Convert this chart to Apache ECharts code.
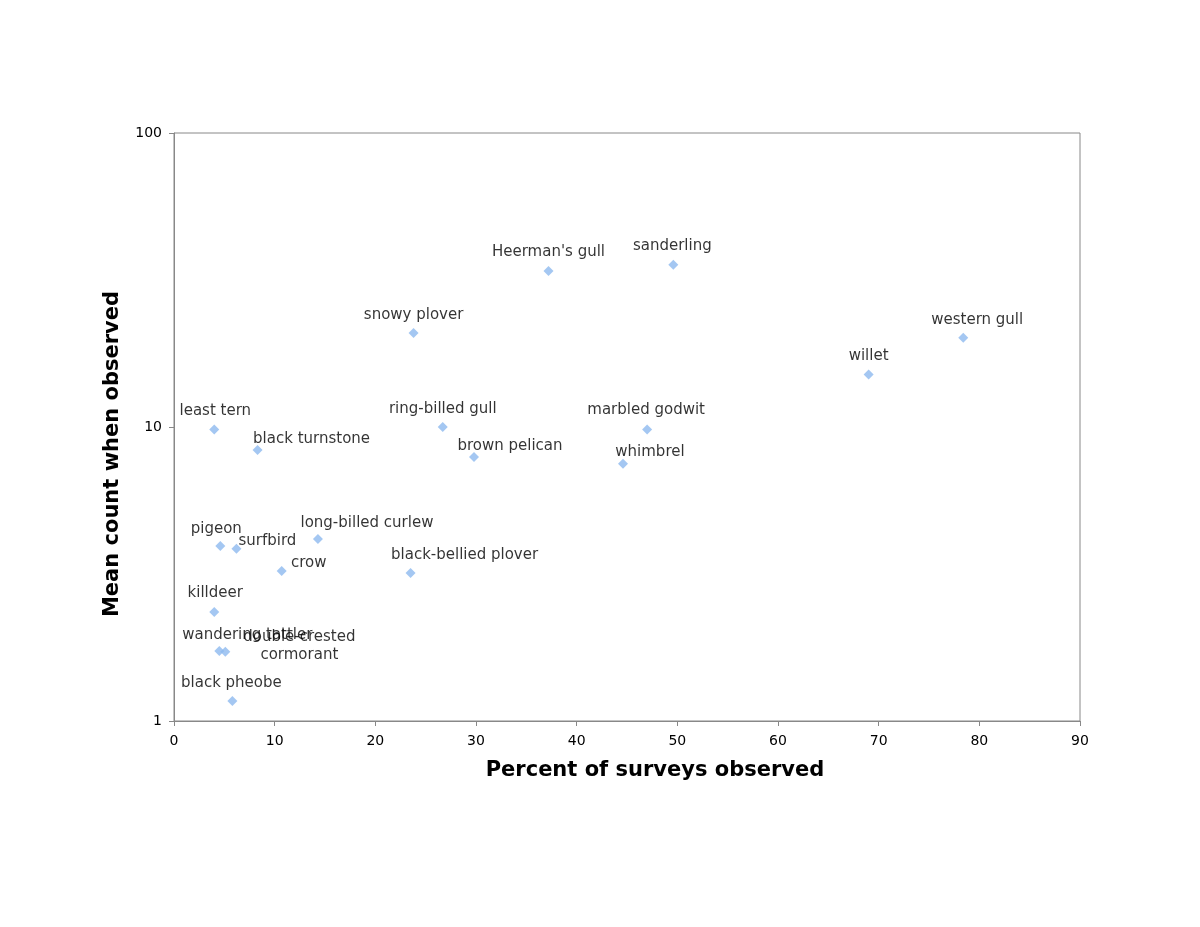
<!DOCTYPE html>
<html>
<head>
<meta charset="utf-8">
<script src="https://cdn.jsdelivr.net/npm/echarts@6/dist/echarts.min.js"></script>
<style>html,body{margin:0;padding:0;background:#fff;}#c{width:1200px;height:927px;}</style>
</head>
<body>
<div id="c"></div>
<script>
const species = ["least tern","black turnstone","pigeon","surfbird","long-billed curlew","crow","killdeer","wandering tattler","double-crested\ncormorant","black pheobe","snowy plover","ring-billed gull","brown pelican","black-bellied plover","Heerman's gull","sanderling","marbled godwit","whimbrel","willet","western gull"];
const percentObserved = [4.0, 8.3, 4.6, 6.2, 14.3, 10.7, 4.0, 4.5, 5.1, 5.8, 23.8, 26.7, 29.8, 23.5, 37.2, 49.6, 47.0, 44.6, 69.0, 78.4];
const meanCount = [9.8, 8.35, 3.94, 3.85, 4.16, 3.24, 2.35, 1.73, 1.72, 1.17, 20.9, 10.0, 7.9, 3.19, 33.9, 35.6, 9.8, 7.5, 15.1, 20.1];
const xTicks = [0,10,20,30,40,50,60,70,80,90];
const yTicks = [1,10,100];
// label offsets [dx, dy] relative to default label above point
const labelShift = [[1,0],[54,7],[-4,1],[31,10],[49,2],[27,10],[1,-1],[28,2],[74,21],[-1,0],[0,0],[0,0],[36,7],[54,0],[0,-1],[-1,-1],[-1,-1],[27,6],[0,0],[14,0]];

const data = species.map((s,i)=>({
  value:[percentObserved[i], meanCount[i]],
  name:s,
  label:{offset:labelShift[i]}
}));

const chart = echarts.init(document.getElementById('c'), null, {renderer:'canvas'});
chart.setOption({
  backgroundColor:'#fff',
  animation:false,
  grid:{left:174, top:133, right:120, bottom:206, show:true, borderColor:'#888', borderWidth:1, backgroundColor:'transparent'},
  xAxis:{
    type:'value', min:0, max:90, interval:10,
    axisLine:{show:true, lineStyle:{color:'#888'}},
    axisTick:{show:true, length:5, lineStyle:{color:'#888'}},
    axisLabel:{color:'#000', fontSize:14, fontFamily:'DejaVu Sans', margin:13, formatter:v=>xTicks.includes(v)?String(v):''},
    splitLine:{show:false}
  },
  yAxis:{
    type:'log', logBase:10, min:1, max:100,
    axisLine:{show:true, lineStyle:{color:'#888'}},
    axisTick:{show:true, length:5, lineStyle:{color:'#888'}},
    minorTick:{show:false},
    axisLabel:{color:'#000', fontSize:14, fontFamily:'DejaVu Sans', margin:12, formatter:v=>yTicks.includes(Math.round(v))?String(Math.round(v)):''},
    splitLine:{show:false}
  },
  series:[{
    type:'scatter',
    symbol:'diamond',
    symbolSize:10,
    itemStyle:{color:'#8db9ef'},
    data:data,
    label:{show:true, position:'top', distance:4, formatter:p=>p.name, color:'#000', fontSize:15, fontFamily:'DejaVu Sans', lineHeight:18, align:'center'}
  }],
  graphic:[
    {type:'text', x:655, y:771, style:{text:'Percent of surveys observed', font:'bold 21px "DejaVu Sans"', fill:'#000', textAlign:'center', textVerticalAlign:'middle'}, silent:true},
    {type:'text', rotation:Math.PI/2, x:113, y:454, style:{text:'Mean count when observed', font:'bold 21px "DejaVu Sans"', fill:'#000', textAlign:'center', textVerticalAlign:'middle'}, silent:true}
  ]
});
</script>
</body>
</html>
